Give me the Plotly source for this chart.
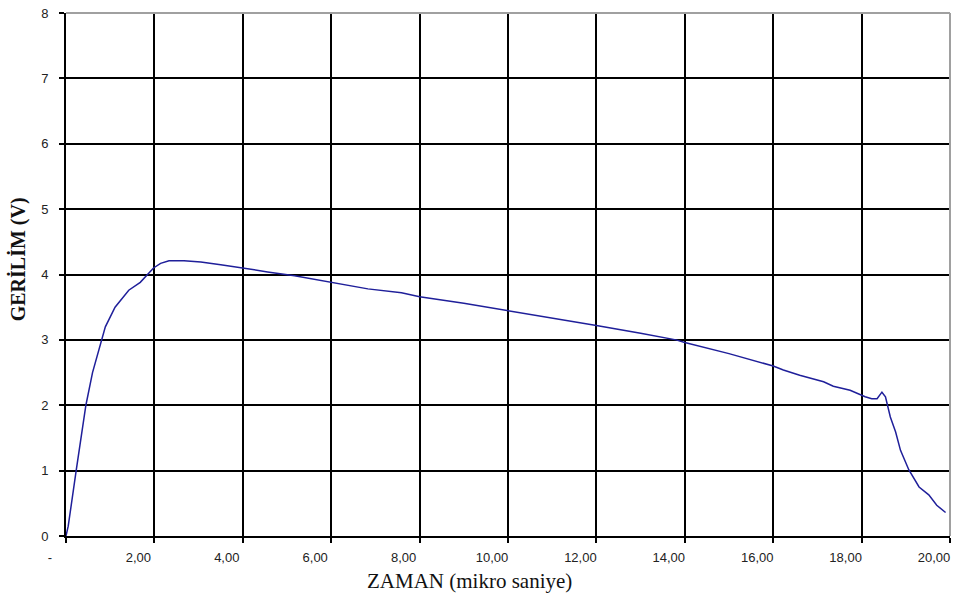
import plotly.graph_objects as go

# Data (time in microseconds, voltage in V)
zaman = [0, 0.05, 0.23, 0.45, 0.6, 0.77, 0.89, 1.11, 1.42, 1.68, 1.98, 2.14, 2.33,
         2.67, 3.05, 3.5, 4.03, 4.56, 5.17, 6.0, 6.83, 7.59, 8.0, 9.0, 10.0, 11.0,
         12.0, 13.0, 13.8, 14.0, 15.0, 16.0, 16.23, 16.6, 17.14, 17.36, 17.74,
         18.08, 18.23, 18.35, 18.46, 18.54, 18.65, 18.77, 18.88, 19.07, 19.3,
         19.52, 19.7, 19.9]
gerilim = [0, 0.15, 1.0, 2.0, 2.5, 2.93, 3.2, 3.5, 3.76, 3.88, 4.1, 4.17, 4.21,
           4.21, 4.19, 4.15, 4.10, 4.04, 3.98, 3.88, 3.78, 3.72, 3.66, 3.56, 3.45,
           3.33, 3.22, 3.1, 3.0, 2.96, 2.79, 2.6, 2.54, 2.46, 2.36, 2.29, 2.23,
           2.13, 2.10, 2.10, 2.20, 2.13, 1.82, 1.59, 1.31, 1.01, 0.75, 0.63, 0.47,
           0.36]

x_tickvals = [0, 2, 4, 6, 8, 10, 12, 14, 16, 18, 20]
x_ticktext = ["-", "2,00", "4,00", "6,00", "8,00", "10,00", "12,00", "14,00",
              "16,00", "18,00", "20,00"]
y_tickvals = [0, 1, 2, 3, 4, 5, 6, 7, 8]
y_ticktext = ["0", "1", "2", "3", "4", "5", "6", "7", "8"]

fig = go.Figure()
fig.add_trace(go.Scatter(x=zaman, y=gerilim, mode="lines",
                         line=dict(color="#1f1f9a", width=1.5),
                         showlegend=False, hoverinfo="skip"))

tickfont = dict(family="Liberation Sans, Arial, sans-serif", size=13, color="#222222")

fig.update_layout(
    width=958, height=606,
    margin=dict(l=66, r=8, t=13, b=70, autoexpand=False),
    paper_bgcolor="white", plot_bgcolor="white",
    xaxis=dict(range=[0, 20], tickvals=x_tickvals, ticktext=x_ticktext,
               showgrid=True, gridcolor="black", gridwidth=2,
               showline=True, linecolor="black", linewidth=2,
               ticks="outside", ticklen=5, tickcolor="black", tickwidth=1.5,
               tickfont=tickfont, ticklabelshift=-16, ticklabelstandoff=3,
               zeroline=False, fixedrange=True, automargin=False),
    yaxis=dict(range=[0, 8], tickvals=y_tickvals, ticktext=y_ticktext,
               showgrid=True, gridcolor="black", gridwidth=2,
               showline=True, linecolor="black", linewidth=2,
               ticks="outside", ticklen=5, tickcolor="black", tickwidth=1.5,
               tickfont=tickfont, ticklabelstandoff=8,
               zeroline=False, fixedrange=True, automargin=False),
    shapes=[
        dict(type="line", xref="paper", yref="paper", x0=0, x1=1, y0=1, y1=1,
             line=dict(color="#a0a0a0", width=2)),
        dict(type="line", xref="paper", yref="paper", x0=1, x1=1, y0=0, y1=1,
             line=dict(color="#a0a0a0", width=2)),
    ],
    annotations=[
        dict(text="ZAMAN (mikro saniye)", xref="paper", yref="paper",
             x=0.456, y=-0.086, xanchor="center", yanchor="middle",
             showarrow=False,
             font=dict(family="Liberation Serif, Times New Roman, serif", size=21, color="#111111")),
        dict(text="<b>GERİLİM (V)</b>", xref="paper", yref="paper",
             x=-0.0543, y=0.529, xanchor="center", yanchor="middle",
             textangle=-90, showarrow=False,
             font=dict(family="Liberation Serif, Times New Roman, serif", size=20, color="#111111")),
    ],
)

# Remove the browser's default body margin so the figure fills the window.
fig.write_html("out.html",
               config={"displayModeBar": False},
               post_script="document.body.style.margin='0px';document.body.style.overflow='hidden';")
